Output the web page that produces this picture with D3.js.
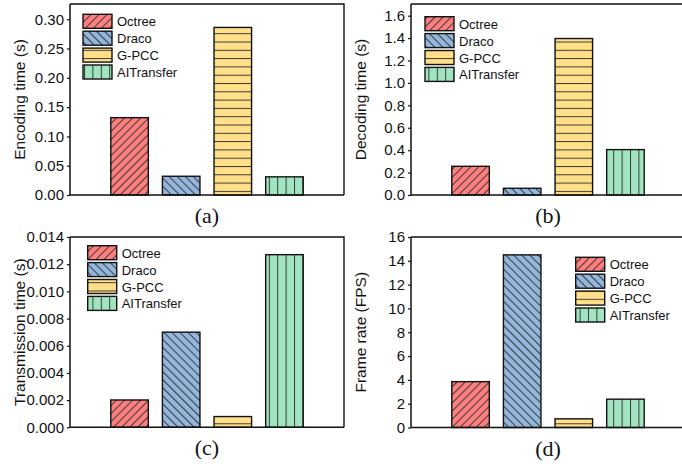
<!DOCTYPE html>
<html>
<head>
<meta charset="utf-8">
<script src="https://cdn.jsdelivr.net/npm/d3@7"></script>
<style>
  body { margin: 0; background: #fff; }
  svg { display: block; }
</style>
</head>
<body>
<div id="container"></div>
<script>
/* DATA */
const methods = ["Octree", "Draco", "G-PCC", "AITransfer"];
const encodingTime = [0.132, 0.032, 0.286, 0.031];
const decodingTime = [0.256, 0.06, 1.396, 0.405];
const transmissionTime = [0.00201, 0.0070, 0.00079, 0.0127];
const frameRate = [3.85, 14.5, 0.73, 2.38];

const encodingTicks = [0, 0.05, 0.10, 0.15, 0.20, 0.25, 0.30];
const decodingTicks = [0, 0.2, 0.4, 0.6, 0.8, 1.0, 1.2, 1.4, 1.6];
const transmissionTicks = [0, 0.002, 0.004, 0.006, 0.008, 0.010, 0.012, 0.014];
const frameTicks = [0, 2, 4, 6, 8, 10, 12, 14, 16];

/* CONSTANTS */
const width = 682, height = 468;
const colors = ["#ff7f7f", "#92b6dc", "#ffdf88", "#a0e5bf"];
const patterns = ["hatch-fwd", "hatch-back", "hatch-horiz", "hatch-vert"];

const panels = [
  { values: encodingTime, ticks: encodingTicks, fmt: ".2f", max: 0.326, title: "Encoding time (s)", label: "(a)",
    left: 70, top: 4, bottom: 195, legend: [83, 14.3] },
  { values: decodingTime, ticks: decodingTicks, fmt: ".1f", max: 1.704, title: "Decoding time (s)", label: "(b)",
    left: 411, top: 4, bottom: 195, legend: [425, 16.7] },
  { values: transmissionTime, ticks: transmissionTicks, fmt: ".3f", max: 0.014, title: "Transmission time (s)", label: "(c)",
    left: 70, top: 237, bottom: 427.3, legend: [87.7, 245.7] },
  { values: frameRate, ticks: frameTicks, fmt: "d", max: 16, title: "Frame rate (FPS)", label: "(d)",
    left: 411, top: 237, bottom: 427.5, legend: [575.7, 257.3] }
];
const panelWidth = 274;

const svg = d3.select("#container").append("svg")
  .attr("width", width)
  .attr("height", height);

/* HATCH PATTERNS */
const defs = svg.append("defs");
const hatch = "#3a3a3a";
function linePattern(id, w, h, rot, x1, y1, x2, y2) {
  const p = defs.append("pattern")
    .attr("id", id)
    .attr("patternUnits", "userSpaceOnUse")
    .attr("width", w)
    .attr("height", h);
  if (rot) p.attr("patternTransform", `rotate(${rot})`);
  p.append("line")
    .attr("x1", x1).attr("y1", y1).attr("x2", x2).attr("y2", y2)
    .attr("stroke", hatch).attr("stroke-width", 1);
}
linePattern("hatch-fwd", 5.7, 10, 45, 0.5, 0, 0.5, 10);
linePattern("hatch-back", 5.7, 10, -45, 0.5, 0, 0.5, 10);
linePattern("hatch-horiz", 10, 8.3, 0, 0, 0.5, 10, 0.5);
linePattern("hatch-vert", 8.4, 10, 0, 0.5, 0, 0.5, 10);

function fillBar(g, x, y, w, h, i) {
  g.append("rect").attr("x", x).attr("y", y).attr("width", w).attr("height", h)
    .attr("fill", colors[i]);
  g.append("rect").attr("x", x).attr("y", y).attr("width", w).attr("height", h)
    .attr("fill", `url(#${patterns[i]})`)
    .attr("stroke", "#111")
    .attr("stroke-width", 1.4);
}

/* PANELS */
panels.forEach(p => {
  const g = svg.append("g");
  const right = p.left + panelWidth;

  const xScale = d3.scaleBand()
    .domain(methods)
    .range([p.left, right])
    .paddingInner(0.273)
    .paddingOuter(0.79);

  const yScale = d3.scaleLinear()
    .domain([0, p.max])
    .range([p.bottom, p.top]);

  // bars
  p.values.forEach((v, i) => {
    const y = yScale(v);
    fillBar(g, xScale(methods[i]), y, xScale.bandwidth(), yScale(0) - y, i);
  });

  // frame (top, right)
  g.append("path")
    .attr("d", `M${p.left},${p.top}H${right}V${p.bottom}`)
    .attr("fill", "none")
    .attr("stroke", "#111")
    .attr("stroke-width", 1.4);

  // x axis line
  g.append("line")
    .attr("x1", p.left).attr("x2", right)
    .attr("y1", p.bottom).attr("y2", p.bottom)
    .attr("stroke", "#111").attr("stroke-width", 1.5);

  // y axis
  const yAxis = d3.axisLeft(yScale)
    .tickValues(p.ticks)
    .tickFormat(d3.format(p.fmt))
    .tickSize(3)
    .tickSizeOuter(0)
    .tickPadding(3);
  const ay = g.append("g")
    .attr("transform", `translate(${p.left},0)`)
    .call(yAxis);
  ay.select(".domain").attr("stroke", "#111").attr("stroke-width", 1.5)
    .attr("d", `M0,${p.top}V${p.bottom}`);
  ay.selectAll(".tick line").attr("stroke", "#111").attr("stroke-width", 1.2);
  ay.selectAll(".tick text")
    .attr("fill", "#111")
    .style("font-family", "'Liberation Sans', Arial, sans-serif")
    .style("font-size", "15px");

  // y title
  g.append("text")
    .attr("transform", `translate(${p.left - 51},${(p.top + p.bottom) / 2}) rotate(-90)`)
    .attr("text-anchor", "middle")
    .attr("dominant-baseline", "central")
    .attr("fill", "#111")
    .style("font-family", "'Liberation Sans', Arial, sans-serif")
    .style("font-size", "15.5px")
    .text(p.title);

  // subplot label
  g.append("text")
    .attr("x", (p.left + right) / 2)
    .attr("y", p.bottom + 28)
    .attr("text-anchor", "middle")
    .attr("fill", "#111")
    .style("font-family", "'Liberation Serif', 'Times New Roman', serif")
    .style("font-size", "22px")
    .text(p.label);

  // legend
  const [lx, ly] = p.legend;
  methods.forEach((m, i) => {
    const y = ly + i * 16.9;
    fillBar(g, lx, y, 29, 14, i);
    g.append("text")
      .attr("x", lx + 34)
      .attr("y", y + 7.5)
      .attr("dominant-baseline", "central")
      .attr("fill", "#111")
      .style("font-family", "'Liberation Sans', Arial, sans-serif")
      .style("font-size", "13px")
      .text(m);
  });
});
</script>
</body>
</html>
